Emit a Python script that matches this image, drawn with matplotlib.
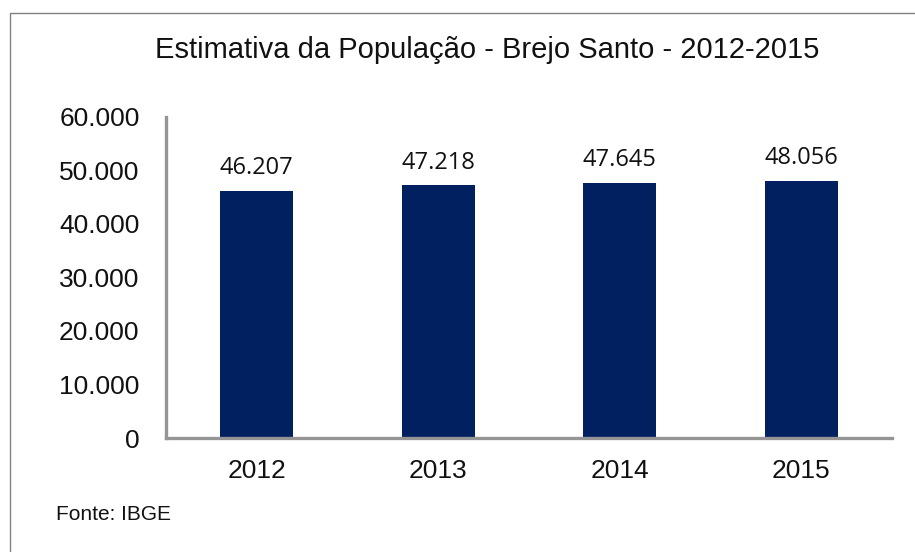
import matplotlib
matplotlib.use("Agg")
import matplotlib.pyplot as plt
from matplotlib.lines import Line2D
from matplotlib.ticker import FuncFormatter

anos = ["2012", "2013", "2014", "2015"]
populacao = [46207, 47218, 47645, 48056]
rotulos = ["46.207", "47.218", "47.645", "48.056"]
yticks = [0, 10000, 20000, 30000, 40000, 50000, 60000]

W, H = 915, 552
fig = plt.figure(figsize=(W / 100, H / 100), dpi=100)
fig.patch.set_facecolor("white")

ax = fig.add_axes([166 / W, 1 - 438 / H, (892 - 166) / W, (438 - 117) / H])
x = list(range(len(anos)))
bars = ax.bar(x, populacao, width=0.40, color="#002060", zorder=2)
ax.set_xlim(-0.5, 3.5)
ax.set_ylim(0, 60000)
ax.set_yticks(yticks)
ax.yaxis.set_major_formatter(FuncFormatter(lambda v, p: f"{int(v):,}".replace(",", ".")))
ax.set_xticks(x)
ax.set_xticklabels(anos)

for s in ["top", "right"]:
    ax.spines[s].set_visible(False)
for s in ["left", "bottom"]:
    ax.spines[s].set_color("#959595")
    ax.spines[s].set_linewidth(2.4)

ax.tick_params(axis="y", length=0, pad=19, labelsize=19, labelcolor="#111111")
ax.tick_params(axis="x", length=0, pad=15, labelsize=19, labelcolor="#111111")
for lab in ax.get_xticklabels() + ax.get_yticklabels():
    lab.set_fontfamily("Liberation Sans")

for b, t in zip(bars, rotulos):
    ax.annotate(t, (b.get_x() + b.get_width() / 2, b.get_height()),
                xytext=(0, 12), textcoords="offset points",
                ha="center", va="baseline", fontsize=17,
                fontfamily="Open Sans", color="#111111")

fig.text(487 / W, 1 - 50 / H, "Estimativa da População - Brejo Santo - 2012-2015",
         ha="center", va="center", fontsize=21, fontfamily="Liberation Sans",
         color="#111111")
fig.text(56 / W, 1 - 514 / H, "Fonte: IBGE", ha="left", va="center",
         fontsize=15, fontfamily="Liberation Sans", color="#111111")

fig.add_artist(Line2D([9.5 / W, 9.5 / W, 1.0], [0.0, 1 - 13 / H, 1 - 13 / H],
                      transform=fig.transFigure, color="#808080", lw=1.0))

fig.savefig("out.png", dpi=100, facecolor="white")
